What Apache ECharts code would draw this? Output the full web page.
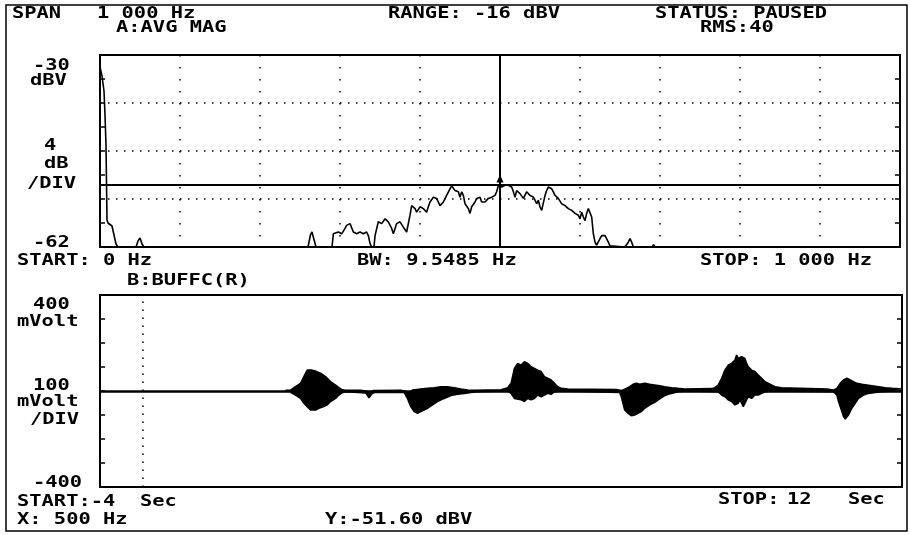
<!DOCTYPE html>
<html>
<head>
<meta charset="utf-8">
<script src="https://cdn.jsdelivr.net/npm/echarts@6/dist/echarts.min.js"></script>
<style>
html,body{margin:0;padding:0;background:#fff;}
#c{width:910px;height:535px;}
</style>
</head>
<body>
<div id="c"></div>
<script>
// ---- DATA ----
// Trace A: averaged magnitude spectrum, [Hz, dBV]
const spectrum = [
 [0,-32],[2.5,-33.5],[5,-36],[6.25,-40],[7.5,-45],[8.75,-57.5],[10,-58],[12.5,-58],[15,-58.5],[17.5,-60],[20,-61.5],[22.5,-62],
 [45,-62],[47.5,-61],[50,-60.5],[52.5,-61.5],[55,-62],
 [260,-62],[263,-60],[265,-59.5],[268,-61],[270,-62],
 [290,-62],[291.7,-59.8],[293.8,-59.8],[297.9,-59.5],[302.1,-59.8],[306.3,-58.9],[308.3,-58.4],[310.4,-58.7],[312.5,-58.1],
 [316.7,-59.5],[320.8,-59.8],[325,-59.5],[329.2,-59.8],[333.3,-59.5],[335.4,-60.1],[337.5,-61.4],[339.6,-62],[342.5,-62],
 [343.8,-60.1],[347.9,-57.8],[352.1,-58.1],[356.3,-57.3],[360.4,-57.8],[364.6,-58.9],[366.7,-59.8],[370.8,-58.1],[375,-57.8],
 [379.2,-58.7],[383.3,-59.5],[385.4,-59.8],[387.5,-56.7],[389.6,-55.1],[391.7,-54.8],[393.8,-55.6],[395.8,-56.2],[397.9,-55.9],
 [400,-55.3],[404.2,-55.6],[408.3,-56.2],[410.4,-55.3],[412.5,-54.5],[416.7,-53.7],[420.8,-53.9],[422.9,-54.5],[425,-55.1],
 [429.2,-54.5],[433.3,-53.4],[437.5,-52.3],[439.6,-51.8],[441.7,-51.7],[443.8,-52.6],[447.9,-52.8],[450,-53.7],[452.1,-52.8],
 [454.2,-53.4],[456.3,-54.8],[458.3,-54.5],[460.4,-55.6],[462.5,-56.4],[464.6,-55.3],[468.8,-54.5],[470.8,-53.9],[475,-53.7],
 [477.1,-54.5],[479.2,-54.8],[481.3,-54.5],[485.4,-53.9],[489.6,-53.7],[493.8,-53.4],[495.8,-52.8],[497.9,-51.8],[500,-51.6],
 [502.1,-52.0],[504.2,-52.0],[506.3,-51.7],[508.3,-52.0],[510.4,-51.7],[514.6,-52.0],[516.7,-52.8],[518.8,-53.7],[520.8,-52.6],
 [522.9,-52.3],[525,-53.1],[527.1,-53.4],[529.2,-53.9],[531.3,-53.7],[533.3,-52.8],[535.4,-52.6],[537.5,-53.4],[539.6,-53.1],
 [541.7,-53.7],[543.8,-54.2],[545.8,-54.8],[547.9,-54.2],[550,-55.3],[552.1,-55.9],[554.2,-55.6],[556.3,-53.4],[558.3,-52.6],
 [560.4,-52.0],[562.5,-51.7],[564.6,-52.3],[566.7,-52.8],[568.8,-53.4],[572.9,-53.9],[577.1,-54.8],[581.3,-55.1],[585.4,-55.6],
 [589.6,-55.9],[593.8,-56.4],[597.9,-56.7],[600,-57.3],[602.1,-56.2],[604.2,-57.0],[606.3,-57.6],[608.3,-56.4],[610.4,-55.6],
 [612.5,-55.9],[614.6,-57.0],[616.7,-59.8],[618.8,-61.2],[620.8,-61.7],[622.9,-61.4],[625,-60.6],[627.1,-60.1],[629.2,-59.8],
 [631.3,-60.1],[633.3,-60.3],[635.4,-61.2],[637.5,-61.8],[639.6,-62],[656,-62],[658.3,-62],[660.4,-61.2],[662.5,-60.6],
 [664.6,-61.2],[666.7,-62],[690,-62],[692,-61.6],[694,-62],[1000,-62]
];
// Marker readout
const markerHz = 500;
const markerDbv = -51.6;
// Trace B: time record, envelope of the waveform [sec, mVolt]
const envUpper = [
 [-0.3,3],[-0.2,4],[-0.1,18],[0,32],[0.067,60],[0.133,87],[0.167,94],[0.233,87],[0.3,83],[0.4,74],[0.5,60],[0.533,53],
 [0.6,39],[0.7,25],[0.767,14],[0.833,5],[0.9,3],[1.2,3],[1.3,0],[1.4,-5],[1.45,2],[2.0,3],[2.067,0],[2.167,-10],[2.233,4],
 [2.267,11],[2.4,8],[2.533,11],[2.667,14],[2.8,18],[2.933,18],[3.067,14],[3.2,8],[3.333,4],[3.467,3],[4.0,5],[4.133,14],
 [4.2,32],[4.267,94],[4.333,115],[4.4,108],[4.467,122],[4.533,115],[4.6,101],[4.667,94],[4.733,87],[4.8,81],[4.867,60],
 [4.933,53],[5.0,46],[5.067,32],[5.133,18],[5.2,11],[5.333,8],[6.3,6],[6.367,3],[6.433,4],[6.5,11],[6.567,18],[6.633,28],
 [6.7,32],[6.767,28],[6.867,32],[6.967,28],[7.067,25],[7.167,22],[7.267,18],[7.4,14],[7.533,11],[7.667,8],[8.2,10],
 [8.267,14],[8.333,25],[8.4,53],[8.467,87],[8.533,108],[8.6,115],[8.667,129],[8.7,150],[8.733,136],[8.767,129],[8.8,143],
 [8.833,150],[8.867,136],[8.9,115],[8.933,101],[9.0,87],[9.067,81],[9.133,67],[9.2,53],[9.267,39],[9.367,28],[9.467,18],
 [9.6,14],[10.5,8],[10.633,4],[10.7,11],[10.767,32],[10.833,46],[10.9,53],[10.967,46],[11.033,39],[11.1,32],[11.2,28],
 [11.3,25],[11.4,22],[11.533,18],[11.667,14],[11.8,11],[12,8]
];
const envLower = [
 [-0.2,-6],[-0.1,-17],[0,-31],[0.067,-51],[0.133,-65],[0.2,-79],[0.233,-86],[0.3,-79],[0.367,-72],[0.467,-65],[0.533,-58],
 [0.6,-44],[0.7,-31],[0.767,-17],[0.833,-7],[0.9,-3],[1.0,-4],[1.3,-8],[1.367,-28],[1.433,-10],[1.5,-5],[2.067,-6],
 [2.133,-31],[2.2,-65],[2.267,-86],[2.333,-93],[2.4,-86],[2.467,-79],[2.533,-72],[2.633,-58],[2.733,-44],[2.867,-31],
 [3.0,-19],[3.133,-14],[3.267,-10],[3.4,-6],[3.533,-3],[4.133,0],[4.2,-10],[4.267,-31],[4.4,-37],[4.467,-44],[4.533,-31],
 [4.6,-37],[4.667,-31],[4.733,-17],[4.8,-24],[4.867,-17],[4.933,-10],[5.0,-14],[5.067,-3],[5.2,0],[6.367,-6],[6.4,-24],
 [6.433,-51],[6.467,-79],[6.533,-93],[6.6,-103],[6.667,-100],[6.733,-93],[6.8,-86],[6.867,-72],[6.967,-58],[7.067,-47],
 [7.167,-33],[7.267,-19],[7.4,-10],[7.533,-3],[7.667,0],[8.333,-3],[8.4,-17],[8.467,-24],[8.533,-37],[8.6,-44],[8.667,-58],
 [8.7,-65],[8.733,-51],[8.767,-37],[8.8,-51],[8.833,-65],[8.867,-58],[8.9,-37],[8.933,-24],[9.0,-31],[9.067,-17],
 [9.133,-17],[9.2,-10],[9.267,-3],[9.367,0],[10.633,-3],[10.7,-17],[10.733,-44],[10.767,-65],[10.8,-86],[10.833,-107],
 [10.867,-117],[10.9,-114],[10.933,-100],[11.0,-72],[11.067,-51],[11.133,-31],[11.233,-17],[11.333,-10],[11.467,-6],
 [11.6,-3],[11.8,0],[12,0]
];
const timeCursorSec = -3.14;
// Axis ranges / tick labels
const specRange = {min: -62, max: -30};
const freqRange = {min: 0, max: 1000};
const voltRange = {min: -400, max: 400};
const timeRange = {min: -4, max: 12};
const headerTexts = ['SPAN', '1 000 Hz', 'A:AVG MAG', 'RANGE: -16 dBV', 'STATUS: PAUSED', 'RMS:40'];
const axisATexts = ['-30', 'dBV', '4', 'dB', '/DIV', '-62'];
const footerATexts = ['START: 0 Hz', 'BW: 9.5485 Hz', 'STOP: 1 000 Hz', 'B:BUFFC(R)'];
const axisBTexts = ['400', 'mVolt', '100', 'mVolt', '/DIV', '-400'];
const footerBTexts = ['START:-4', 'Sec', 'STOP:', '12', 'Sec', 'X: 500 Hz', 'Y:-51.60 dBV'];

// ---- LAYOUT ----
const FONT = 'bold 15px "DejaVu Sans Mono"';
const SX = 1.36;
function txt(s, x, y) {
  return {type: 'text', x: x, y: y, scaleX: SX, silent: true,
    style: {text: s, x: 0, y: 0, font: FONT, fill: '#000', align: 'left', verticalAlign: 'middle'}};
}
const pos = {
  header: [[12,14],[97,14],[116,28],[388,14],[655,14],[700,28]],
  axisA: [[33,66],[30,81],[44,146],[44,164],[27,184],[33,243]],
  footerA: [[17,261],[357,261],[700,261],[127,281]],
  axisB: [[33,305],[17,322],[33,386],[17,402],[30,420],[33,483]],
  footerB: [[17,502],[140,502],[718,500],[787,500],[848,500],[17,520],[325,520]]
};
const graphics = [{type:'rect', shape:{x:6,y:5,width:901,height:526}, silent:true,
  style:{fill:null, stroke:'#000', lineWidth:1.5}}];
[[headerTexts,'header'],[axisATexts,'axisA'],[footerATexts,'footerA'],[axisBTexts,'axisB'],[footerBTexts,'footerB']]
  .forEach(([arr,k]) => arr.forEach((s,i) => graphics.push(txt(s, pos[k][i][0], pos[k][i][1]))));

const tickStyle = {color:'#000', width:1.5};
function yAx(grid, r, interval, side, split, minor) {
  return {gridIndex:grid, type:'value', min:r.min, max:r.max, interval:interval, position:side,
    axisLine:{show:false, onZero:false}, axisLabel:{show:false},
    axisTick:{show:true, inside:true, length:5, lineStyle:tickStyle},
    minorTick:{show:minor, splitNumber:2, length:5, lineStyle:tickStyle},
    splitLine:{show:split, lineStyle:{color:'#000', width:1.5, type:[1.5,6.5]}}};
}
const chart = echarts.init(document.getElementById('c'), null, {renderer:'canvas'});
chart.setOption({
  animation:false,
  backgroundColor:'#fff',
  grid:[
    {left:100, top:55, width:800, height:192, show:true, borderColor:'#000', borderWidth:2, backgroundColor:'transparent'},
    {left:100, top:295, width:802, height:192, show:true, borderColor:'#000', borderWidth:2, backgroundColor:'transparent'}
  ],
  xAxis:[
    {gridIndex:0, type:'value', min:freqRange.min, max:freqRange.max, interval:100,
     axisLine:{show:false, onZero:false}, axisTick:{show:false}, axisLabel:{show:false},
     splitLine:{show:true, lineStyle:{color:'#000', width:1.5, type:[1.5,10.5]}}},
    {gridIndex:1, type:'value', min:timeRange.min, max:timeRange.max,
     axisLine:{show:false, onZero:false}, axisTick:{show:false}, axisLabel:{show:false}, splitLine:{show:false}}
  ],
  yAxis:[
    yAx(0, specRange, 8, 'left', true, true),
    yAx(0, specRange, 8, 'right', false, true),
    yAx(1, voltRange, 100, 'left', false, false),
    yAx(1, voltRange, 100, 'right', false, false)
  ],
  graphic: graphics,
  series:[
    {type:'line', xAxisIndex:0, yAxisIndex:0, data:spectrum, symbol:'none', silent:true,
     lineStyle:{color:'#000', width:1.6},
     markLine:{silent:true, symbol:'none', label:{show:false},
       lineStyle:{color:'#000', width:2, type:'solid'},
       data:[{xAxis:markerHz},{yAxis:markerDbv}]},
     markPoint:{silent:true, symbol:'triangle', symbolSize:[7,8], symbolOffset:[0,-6],
       itemStyle:{color:'#000'}, label:{show:false}, data:[{coord:[markerHz, markerDbv]}]}},
    {type:'line', xAxisIndex:1, yAxisIndex:2, data:envUpper, symbol:'none', silent:true,
     lineStyle:{color:'#000', width:1.5}, areaStyle:{color:'#000', opacity:1},
     markLine:{silent:true, symbol:'none', label:{show:false},
       data:[{yAxis:0, lineStyle:{color:'#000', width:2.5, type:'solid'}},
             {xAxis:timeCursorSec, lineStyle:{color:'#000', width:1.5, type:[1.5,6.5]}}]}},
    {type:'line', xAxisIndex:1, yAxisIndex:2, data:envLower, symbol:'none', silent:true,
     lineStyle:{color:'#000', width:1.5}, areaStyle:{color:'#000', opacity:1}}
  ]
});
</script>
</body>
</html>
